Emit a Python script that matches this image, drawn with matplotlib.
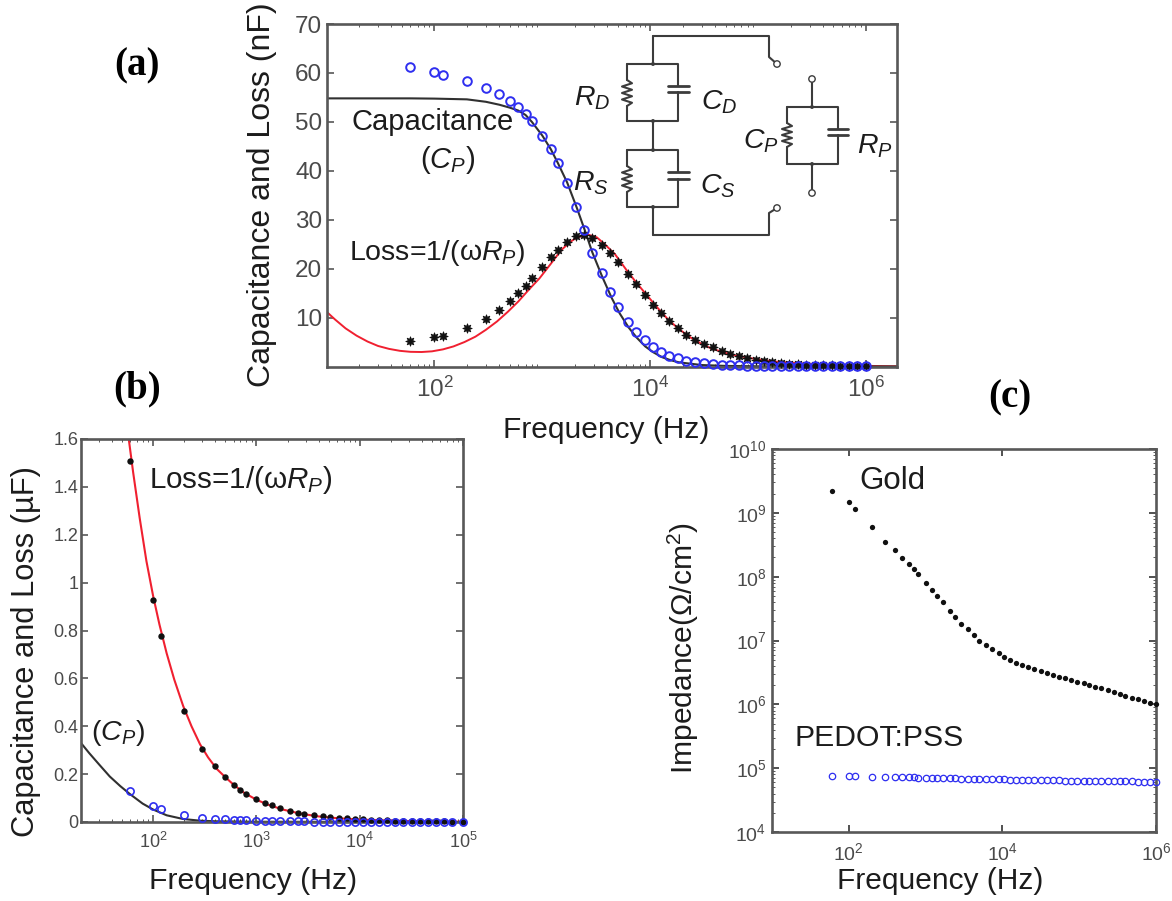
import matplotlib
matplotlib.use("Agg")
import matplotlib.pyplot as plt
from matplotlib.lines import Line2D
from matplotlib.patches import Circle

plt.rcParams['font.family'] = ['Liberation Sans', 'DejaVu Sans']
plt.rcParams['mathtext.fontset'] = 'custom'
plt.rcParams['mathtext.rm'] = 'Liberation Sans'
plt.rcParams['mathtext.it'] = 'Liberation Sans:italic'
plt.rcParams['mathtext.bf'] = 'Liberation Sans:bold'

# ---------- data ----------
freq = [60, 100, 120, 200, 300, 400, 500, 600, 700, 800, 1000, 1200, 1400, 1700, 2050, 2430, 2880,
        3570, 4240, 5000, 6200, 7360, 8900, 10600, 12600, 15000, 18000, 21500, 26000, 31500, 38000,
        46000, 55000, 66000, 79000, 95000, 114000, 136000, 163000, 195000, 234000, 280000, 335000,
        400000, 480000, 575000, 690000, 830000, 1000000]

a_cap_pts = [61.3, 60.1, 59.5, 58.3, 56.9, 55.6, 54.2, 53.0, 51.7, 50.1, 47.2, 44.4, 41.5, 37.5, 32.5, 28.0, 23.2,
             19.1, 15.3, 12.1, 9.1, 7.0, 5.4, 4.0, 3.0, 2.2, 1.7, 1.2, 0.9, 0.65, 0.5, 0.4, 0.3, 0.22, 0.18,
             0.14, 0.12, 0.1, 0.08, 0.07, 0.06, 0.05, 0.05, 0.04, 0.04, 0.03, 0.03, 0.03, 0.02]
a_loss_pts = [5.2, 6.0, 6.2, 7.85, 9.7, 11.5, 13.4, 15.0, 16.5, 18.0, 20.4, 22.4, 23.8, 25.5, 26.6, 26.9, 26.3,
              24.8, 23.2, 21.4, 19.0, 16.9, 14.6, 12.5, 10.9, 9.3, 7.8, 6.4, 5.5, 4.7, 3.9, 3.2, 2.6, 2.1, 1.7,
              1.4, 1.1, 0.9, 0.75, 0.6, 0.5, 0.4, 0.35, 0.3, 0.25, 0.2, 0.17, 0.14, 0.12]
a_cap_f = [10, 30, 60, 100, 200, 300, 400, 500, 600, 700, 800, 1000, 1200, 1400, 1700, 2100, 2500, 2900, 3600, 4400,
           5200, 6300, 7500, 9000, 10700, 12900, 15400, 18500, 30000, 50000, 100000, 1900000]
a_cap_fit = [54.8, 54.8, 54.8, 54.75, 54.6, 54.1, 53.5, 52.9, 52.3, 51.4, 50.0, 47.2, 44.4, 41.5, 37.6, 32.3, 27.6,
             23.4, 18.3, 14.0, 10.9, 8.0, 5.9, 4.1, 2.9, 1.9, 1.3, 0.85, 0.3, 0.12, 0.04, 0.0]
a_loss_f = [10, 12, 15, 19, 24, 30, 38, 48, 60, 76, 95, 120, 150, 190, 240, 300, 380, 480, 600, 750, 940, 1200, 1500,
            1800, 2100, 2700, 3200, 3700, 4700, 5900, 7400, 9300, 11700, 14800, 18600, 23400, 29000, 36600, 57000,
            91000, 144000, 230000, 575000, 1900000]
a_loss_fit = [11.2, 9.6, 7.8, 6.3, 5.1, 4.2, 3.6, 3.2, 3.0, 2.96, 3.1, 3.5, 4.1, 5.0, 6.1, 7.5, 9.2, 11.2, 13.3, 15.7,
              18.0, 21.0, 23.8, 25.4, 26.4, 26.9, 26.4, 25.2, 23.0, 20.0, 17.2, 14.6, 12.0, 9.5, 7.6, 6.0, 4.8, 3.7,
              2.4, 1.6, 1.0, 0.7, 0.2, 0.05]

freq_b = [60, 100, 120, 200, 300, 400, 500, 600, 700, 800, 1000, 1200, 1400, 1700, 2100, 2500, 2900,
          3600, 4400, 5200, 6300, 7500, 9000, 10700, 12900, 15400, 18500, 22000, 26500, 32000, 38000,
          46000, 55000, 66000, 79000, 100000]
b_loss_pts = [1.51, 0.928, 0.778, 0.465, 0.306, 0.233, 0.187, 0.156, 0.135, 0.118, 0.096, 0.08, 0.07, 0.057, 0.047,
              0.039, 0.033, 0.028, 0.024, 0.02, 0.017, 0.015, 0.012, 0.011, 0.009, 0.008, 0.007, 0.006, 0.005,
              0.005, 0.004, 0.004, 0.003, 0.003, 0.002, 0.002]
b_cap_pts = [0.128, 0.067, 0.054, 0.028, 0.018, 0.014, 0.011, 0.009, 0.008, 0.007, 0.005, 0.005, 0.004, 0.004, 0.003,
             0.003, 0.003, 0.002, 0.002, 0.002, 0.002, 0.002, 0.001, 0.001, 0.001, 0.001, 0.001, 0.001, 0.001,
             0.001, 0.001, 0.001, 0.001, 0.001, 0.001, 0.001]
b_cap_f = [20, 24, 30, 38, 48, 59, 79, 100, 135, 195, 284, 400, 1000, 100000]
b_cap_fit = [0.33, 0.288, 0.24, 0.19, 0.15, 0.118, 0.077, 0.052, 0.028, 0.0125, 0.0055, 0.003, 0.001, 0.0]
b_loss_f = [54, 58, 64, 74, 86, 100, 115, 135, 160, 195, 235, 284, 340, 412, 500, 600, 760, 1000, 1300, 1800, 2600,
            3850, 6000, 10000, 30000, 100000]
b_loss_fit = [1.72, 1.6, 1.46, 1.27, 1.09, 0.943, 0.825, 0.705, 0.595, 0.485, 0.40, 0.325, 0.27, 0.222, 0.187, 0.156,
              0.122, 0.093, 0.072, 0.052, 0.036, 0.024, 0.016, 0.01, 0.004, 0.001]

c_gold = [2.2e9, 1.5e9, 1.15e9, 5.9e8, 3.5e8, 2.6e8, 1.95e8, 1.6e8, 1.3e8, 1.1e8, 8.1e7, 6.2e7, 5e7, 4e7, 2.95e7,
          2.3e7, 1.8e7, 1.5e7, 1.2e7, 1e7, 8.5e6, 7.3e6, 6.3e6, 5.6e6, 4.9e6, 4.5e6, 4.07e6, 3.8e6, 3.55e6, 3.3e6,
          3.08e6, 2.9e6, 2.7e6, 2.57e6, 2.4e6, 2.25e6, 2.13e6, 2e6, 1.9e6, 1.78e6, 1.66e6, 1.55e6, 1.45e6, 1.35e6,
          1.26e6, 1.2e6, 1.12e6, 1.05e6, 1e6]
c_pedot = [7.6e4, 7.5e4, 7.5e4, 7.4e4, 7.4e4, 7.3e4, 7.3e4, 7.2e4, 7.2e4, 7.1e4, 7.1e4, 7.0e4, 7.0e4, 6.95e4, 6.9e4,
           6.9e4, 6.85e4, 6.8e4, 6.8e4, 6.75e4, 6.7e4, 6.7e4, 6.65e4, 6.65e4, 6.6e4, 6.6e4, 6.55e4, 6.55e4, 6.5e4,
           6.5e4, 6.5e4, 6.45e4, 6.45e4, 6.4e4, 6.4e4, 6.4e4, 6.35e4, 6.35e4, 6.3e4, 6.3e4, 6.3e4, 6.25e4, 6.25e4,
           6.2e4, 6.2e4, 6.15e4, 6.15e4, 6.1e4, 6.1e4]

a_xticks = [1e2, 1e4, 1e6]
a_xlabels = ['$\\mathregular{10^{2}}$', '$\\mathregular{10^{4}}$', '$\\mathregular{10^{6}}$']
a_yticks = [10, 20, 30, 40, 50, 60, 70]
b_xticks = [1e2, 1e3, 1e4, 1e5]
b_xlabels = ['$\\mathregular{10^{2}}$', '$\\mathregular{10^{3}}$', '$\\mathregular{10^{4}}$', '$\\mathregular{10^{5}}$']
b_yticks = [0, 0.2, 0.4, 0.6, 0.8, 1, 1.2, 1.4, 1.6]
b_ylabels = ['0', '0.2', '0.4', '0.6', '0.8', '1', '1.2', '1.4', '1.6']
c_yticks = [1e4, 1e5, 1e6, 1e7, 1e8, 1e9, 1e10]
c_ylabels = ['$\\mathregular{10^{%d}}$' % e for e in (4, 5, 6, 7, 8, 9, 10)]

# ---------- layout ----------
W, H = 1172, 901
fig = plt.figure(figsize=(W / 100, H / 100), dpi=100, facecolor='white')
BLUE = '#2e2ef0'
RED = '#f02030'
DARK = '#1c1c1c'
GRAY = '#4a4a4a'
SPINE = '#585858'


def axes_px(l, t, r, b):
    return fig.add_axes([l / W, 1 - b / H, (r - l) / W, (b - t) / H])


ov = fig.add_axes([0, 0, 1, 1], zorder=10)
ov.set_xlim(0, W)
ov.set_ylim(H, 0)
ov.axis('off')
ov.patch.set_alpha(0)


def style(ax, tick_size):
    ax.set_xscale('log')
    for s in ax.spines.values():
        s.set_color(SPINE)
        s.set_linewidth(1.9)
    ax.tick_params(which='major', direction='in', top=True, right=True, length=5, width=1.2,
                   color=SPINE, labelsize=tick_size, labelcolor=GRAY)
    ax.tick_params(which='minor', direction='in', top=True, right=True, length=2.5, width=0.7, color=SPINE)


# ---------- panel a ----------
ax = axes_px(327, 24, 897, 366.5)
style(ax, 17.5)
ax.plot(a_loss_f, a_loss_fit, color=RED, lw=1.4, zorder=2)
ax.plot(a_cap_f, a_cap_fit, color='#303030', lw=1.5, zorder=2)
ax.plot(freq, a_loss_pts, ls='none', marker=(8, 1, 0), ms=7, color='#111111', mew=0.5, zorder=3, clip_on=False)
ax.plot(freq, a_cap_pts, ls='none', marker='o', ms=6.2, mfc='none', mec=BLUE, mew=1.4, zorder=4, clip_on=False)
ax.set_xlim(10.1, 1.94e6)
ax.set_ylim(0, 70)
ax.set_xticks(a_xticks)
ax.set_xticklabels(a_xlabels)
ax.set_yticks(a_yticks)
ax.tick_params(axis='x', which='major', pad=7)
ax.tick_params(axis='y', which='major', pad=3.5)
ax.set_xlabel('Frequency (Hz)', fontsize=21.5, color=DARK)
ax.xaxis.set_label_coords(606, 430, transform=ov.transData)
ax.xaxis.label.set_va('center')
ax.set_ylabel('Capacitance and Loss (nF)', fontsize=23, color=DARK)
ax.yaxis.set_label_coords(262, 195, transform=ov.transData)
ax.yaxis.label.set_va('center')

# ---------- panel b ----------
ax = axes_px(81, 439, 463, 822)
style(ax, 13)
ax.plot(b_loss_f, b_loss_fit, color=RED, lw=1.5, zorder=2)
ax.plot(b_cap_f, b_cap_fit, color='#303030', lw=1.5, zorder=2)
ax.plot(freq_b, b_loss_pts, ls='none', marker='o', ms=4.6, color='#101010', mew=0, zorder=3, clip_on=False)
ax.plot(freq_b, b_cap_pts, ls='none', marker='o', ms=5.2, mfc='none', mec=BLUE, mew=1.2, zorder=4, clip_on=False)
ax.set_xlim(20, 1e5)
ax.set_ylim(0, 1.6)
ax.set_xticks(b_xticks)
ax.set_xticklabels(b_xlabels)
ax.set_yticks(b_yticks)
ax.set_yticklabels(b_ylabels)
ax.tick_params(axis='x', which='major', pad=7)
ax.tick_params(axis='y', which='major', pad=2)
ax.set_xlabel('Frequency (Hz)', fontsize=21.8, color=DARK)
ax.xaxis.set_label_coords(253, 881, transform=ov.transData)
ax.xaxis.label.set_va('center')
ax.set_ylabel('Capacitance and Loss (\u00b5F)', fontsize=22.2, color=DARK)
ax.yaxis.set_label_coords(26, 652, transform=ov.transData)
ax.yaxis.label.set_va('center')

# ---------- panel c ----------
ax = axes_px(772, 449, 1156, 832)
style(ax, 14)
ax.plot(freq, c_gold, ls='none', marker='o', ms=3.8, color='#101010', mew=0, zorder=3, clip_on=False)
ax.plot(freq, c_pedot, ls='none', marker='o', ms=4.6, mfc='none', mec=BLUE, mew=0.9, zorder=4, clip_on=False)
ax.set_yscale('log')
ax.set_xlim(1e1, 1e6)
ax.set_ylim(1e4, 1e10)
ax.set_xticks(a_xticks)
ax.set_xticklabels(a_xlabels)
ax.set_yticks(c_yticks)
ax.set_yticklabels(c_ylabels)
ax.tick_params(which='major', color='#333333')
ax.tick_params(axis='x', which='minor', length=0)
ax.tick_params(axis='x', which='major', pad=7)
ax.tick_params(axis='y', which='major', pad=4)
ax.set_xlabel('Frequency (Hz)', fontsize=21.5, color=DARK)
ax.xaxis.set_label_coords(940, 881, transform=ov.transData)
ax.xaxis.label.set_va('center')
ax.set_ylabel('Impedance(\u03a9/cm$^{2}$)', fontsize=21.6, color=DARK)
ax.yaxis.set_label_coords(683, 648, transform=ov.transData)
ax.yaxis.label.set_va('center')


# ---------- annotations ----------
def label(x, y, s, size=21, **kw):
    ov.text(x, y, s, fontsize=size, color=kw.pop('color', DARK), ha=kw.pop('ha', 'center'), va='center', **kw)


serif = ['Liberation Serif', 'DejaVu Serif']
label(136.5, 66, '(a)', 28, family=serif, weight='bold', color='black')
label(137, 389, '(b)', 28, family=serif, weight='bold', color='black')
label(1010, 398, '(c)', 28, family=serif, weight='bold', color='black')

label(433, 122, 'Capacitance', 21)
label(448, 160, '($C_P$)', 21)
label(437, 253, 'Loss=1/(\u03c9$R_P$)', 20.5)
label(241, 480, 'Loss=1/(\u03c9$R_P$)', 21.3)
label(118, 733, '($C_P$)', 20.5)
label(892, 481, 'Gold', 22.5)
label(879, 738, 'PEDOT:PSS', 21.7)
label(592, 98, '$R_D$', 20.5)
label(719, 102, '$C_D$', 20.5)
label(591, 183, '$R_S$', 20.5)
label(718, 186, '$C_S$', 20.5)
label(761, 141, '$C_P$', 20.5)
label(875, 146, '$R_P$', 20.5)

# ---------- circuit schematic (drawing, not data) ----------
WIRE = '#3c3c3c'


def wire(xs, ys, lw=1.5):
    ov.add_line(Line2D(xs, ys, color=WIRE, lw=lw, solid_capstyle='round'))


def rc_box(left, right, top, bottom, res_top, res_bot, cap_y1, cap_y2, cap_l, cap_r):
    wire([left, right, right], [top, top, cap_y1])
    wire([right, right, left], [cap_y2, bottom, bottom])
    wire([left, left], [top, res_top])
    wire([left, left], [res_bot, bottom])
    zz_y = [res_top + (res_bot - res_top) * i / 8 for i in range(9)]
    zz_x = [left + (0 if i in (0, 8) else (5 if i % 2 else -5)) for i in range(9)]
    wire(zz_x, zz_y)
    wire([cap_l, cap_r], [cap_y1, cap_y1], 2.0)
    wire([cap_l, cap_r], [cap_y2, cap_y2], 2.0)


def terminal(x, y):
    ov.add_patch(Circle((x, y), 3.2, fc='white', ec=WIRE, lw=1.0, zorder=5))


def node(x, y):
    ov.add_patch(Circle((x, y), 1.6, fc=WIRE, ec=WIRE, lw=0.5))


rc_box(627, 678, 64, 121, 80, 106, 86, 92, 668, 689)
rc_box(627, 678, 150, 207, 166, 192, 172, 179, 668, 689)
wire([653, 653], [36, 64])
wire([653, 653], [121, 150])
wire([653, 653], [207, 235])
wire([653, 769, 769, 777], [36, 36, 57, 64])
wire([653, 769, 769, 777], [235, 235, 213, 208])
terminal(777, 64)
terminal(777, 208)
for yy in (64, 121, 150, 207):
    node(653, yy)

rc_box(787, 838, 107, 164, 123, 147, 129, 135, 828, 848)
wire([812, 812], [79, 107])
wire([812, 812], [164, 193])
terminal(812, 79)
terminal(812, 193)
node(812, 107)
node(812, 164)

fig.savefig('out.png', dpi=100, facecolor='white')
